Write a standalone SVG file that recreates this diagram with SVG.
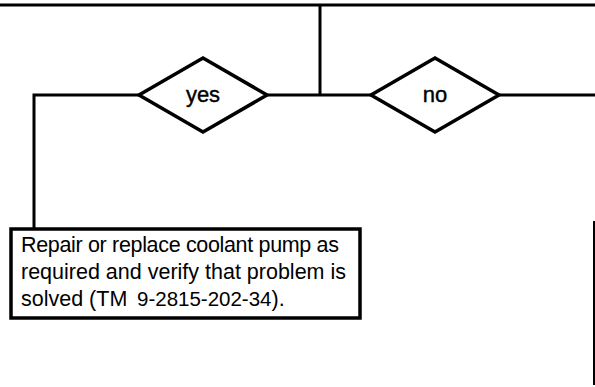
<svg xmlns="http://www.w3.org/2000/svg" width="595" height="387" viewBox="0 0 595 387">
<style>
.ln{fill:none;stroke:#000;stroke-width:3}
.dm{fill:#fff;stroke:#000;stroke-width:3.5;stroke-linejoin:miter}
.lbl{font-family:"Liberation Sans",Arial,sans-serif;font-size:22px;text-anchor:middle;fill:#000;stroke:#000;stroke-width:0.4}
.bx{fill:#fff;stroke:#000;stroke-width:3.5}
.tx{font-family:"Liberation Sans",Arial,sans-serif;font-size:21.5px;fill:#000}
.num{font-size:20.5px}
</style>
<rect width="595" height="387" fill="#fff"/>
<g id="connectors">
<line class="ln" x1="0" y1="5" x2="595" y2="5"/>
<line class="ln" x1="320" y1="5" x2="320" y2="95"/>
<polyline class="ln" points="139,95 34,95 34,229"/>
<line class="ln" x1="267" y1="95" x2="371" y2="95"/>
<line class="ln" x1="499" y1="95" x2="595" y2="95"/>
<line x1="594" y1="221" x2="594" y2="385" stroke="#000" stroke-width="2"/>
</g>
<g id="yes">
<polygon class="dm" points="139,95 203,58 267,95 203,132"/>
<text class="lbl" x="203" y="102">yes</text>
</g>
<g id="no">
<polygon class="dm" points="371,95 435,58 499,95 435,132"/>
<text class="lbl" x="435" y="102">no</text>
</g>
<g id="repair">
<rect class="bx" x="11" y="229" width="349" height="89"/>
<text class="tx" x="21" y="252" textLength="318" lengthAdjust="spacing">Repair or replace coolant pump as</text>
<text class="tx" x="21" y="279" textLength="325" lengthAdjust="spacing">required and verify that problem is</text>
<text class="tx" x="21" y="306">solved (TM<tspan class="num" x="137">9-2815-202-34</tspan>).</text>
</g>
</svg>
